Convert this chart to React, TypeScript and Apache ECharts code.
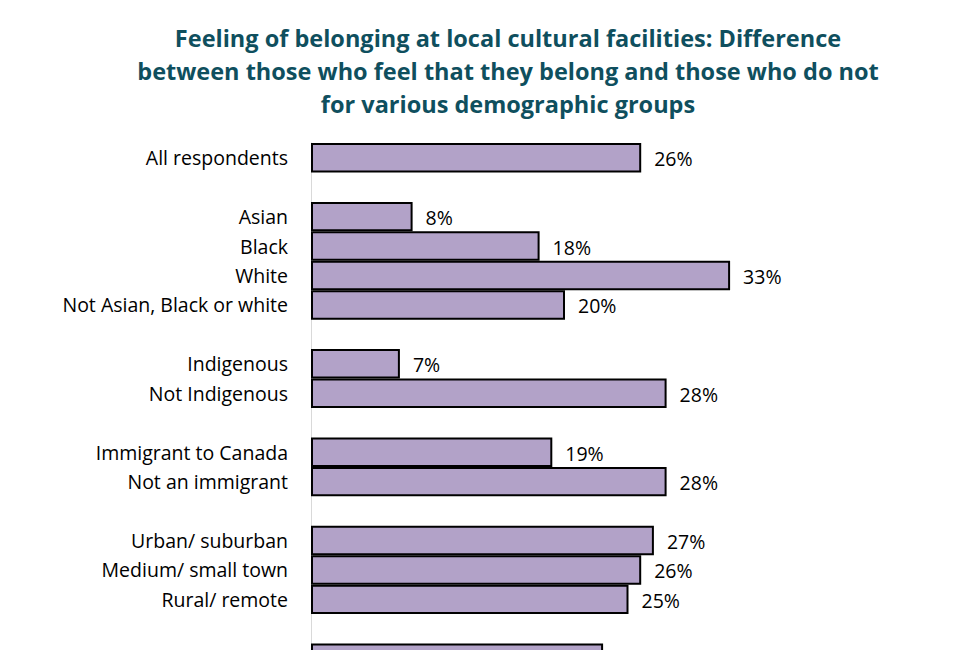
import React, { useEffect, useRef } from "react";
import * as echarts from "echarts";

const titleText =
  "Feeling of belonging at local cultural facilities: Difference\nbetween those who feel that they belong and those who do not\nfor various demographic groups";

// Blank strings separate the groups (spacer rows)
const categories = [
  "All respondents",
  " ",
  "Asian",
  "Black",
  "White",
  "Not Asian, Black or white",
  "  ",
  "Indigenous",
  "Not Indigenous",
  "   ",
  "Immigrant to Canada",
  "Not an immigrant",
  "    ",
  "Urban/ suburban",
  "Medium/ small town",
  "Rural/ remote",
  "     ",
  "Women",
];

const values: (number | null)[] = [
  26, null, 8, 18, 33, 20, null, 7, 28, null, 19, 28, null, 27, 26, 25, null, 23,
];

// index of the partially visible row whose labels fall below the frame
const lastIndex = categories.length - 1;

export default function App() {
  const ref = useRef<HTMLDivElement>(null);
  useEffect(() => {
    if (!ref.current) return;
    const chart = echarts.init(ref.current, null, { renderer: "svg" });
    chart.setOption({
      animation: false,
      title: {
        text: titleText,
        left: 503,
        textAlign: "center",
        top: 16,
        textStyle: {
          fontFamily: "Open Sans",
          fontWeight: "bold",
          fontSize: 23.5,
          lineHeight: 33,
          color: "#0f4f5e",
        },
      },
      grid: { left: 311, top: 143, height: 530, width: 635 },
      xAxis: {
        type: "value",
        min: 0,
        max: 50,
        show: false,
      },
      yAxis: {
        type: "category",
        inverse: true,
        data: categories,
        axisLine: { show: true, lineStyle: { color: "#d9d9d9", width: 1 } },
        axisTick: { show: false },
        axisLabel: {
          margin: 23,
          fontFamily: "Open Sans",
          fontSize: 19.5,
          color: "#000",
          formatter: (v: string, i: number) => (i === lastIndex ? "" : v),
        },
      },
      series: [
        {
          type: "bar",
          data: values.map((v) => (v === null ? "-" : v)),
          barCategoryGap: "0%",
          itemStyle: { color: "#b2a2c8", borderColor: "#000", borderWidth: 2 },
          label: {
            show: true,
            position: "right",
            distance: 13,
            formatter: (p: any) => (p.dataIndex === lastIndex ? "" : p.value + "%"),
            fontFamily: "Open Sans",
            fontSize: 19.5,
            color: "#000",
            offset: [0, 1],
          },
        },
      ],
    });
    return () => chart.dispose();
  }, []);
  return (
    <div
      style={{
        position: "fixed",
        left: 0,
        top: 0,
        width: 975,
        height: 650,
        overflow: "hidden",
        background: "#fff",
      }}
    >
      <div ref={ref} style={{ width: 975, height: 700 }} />
    </div>
  );
}
